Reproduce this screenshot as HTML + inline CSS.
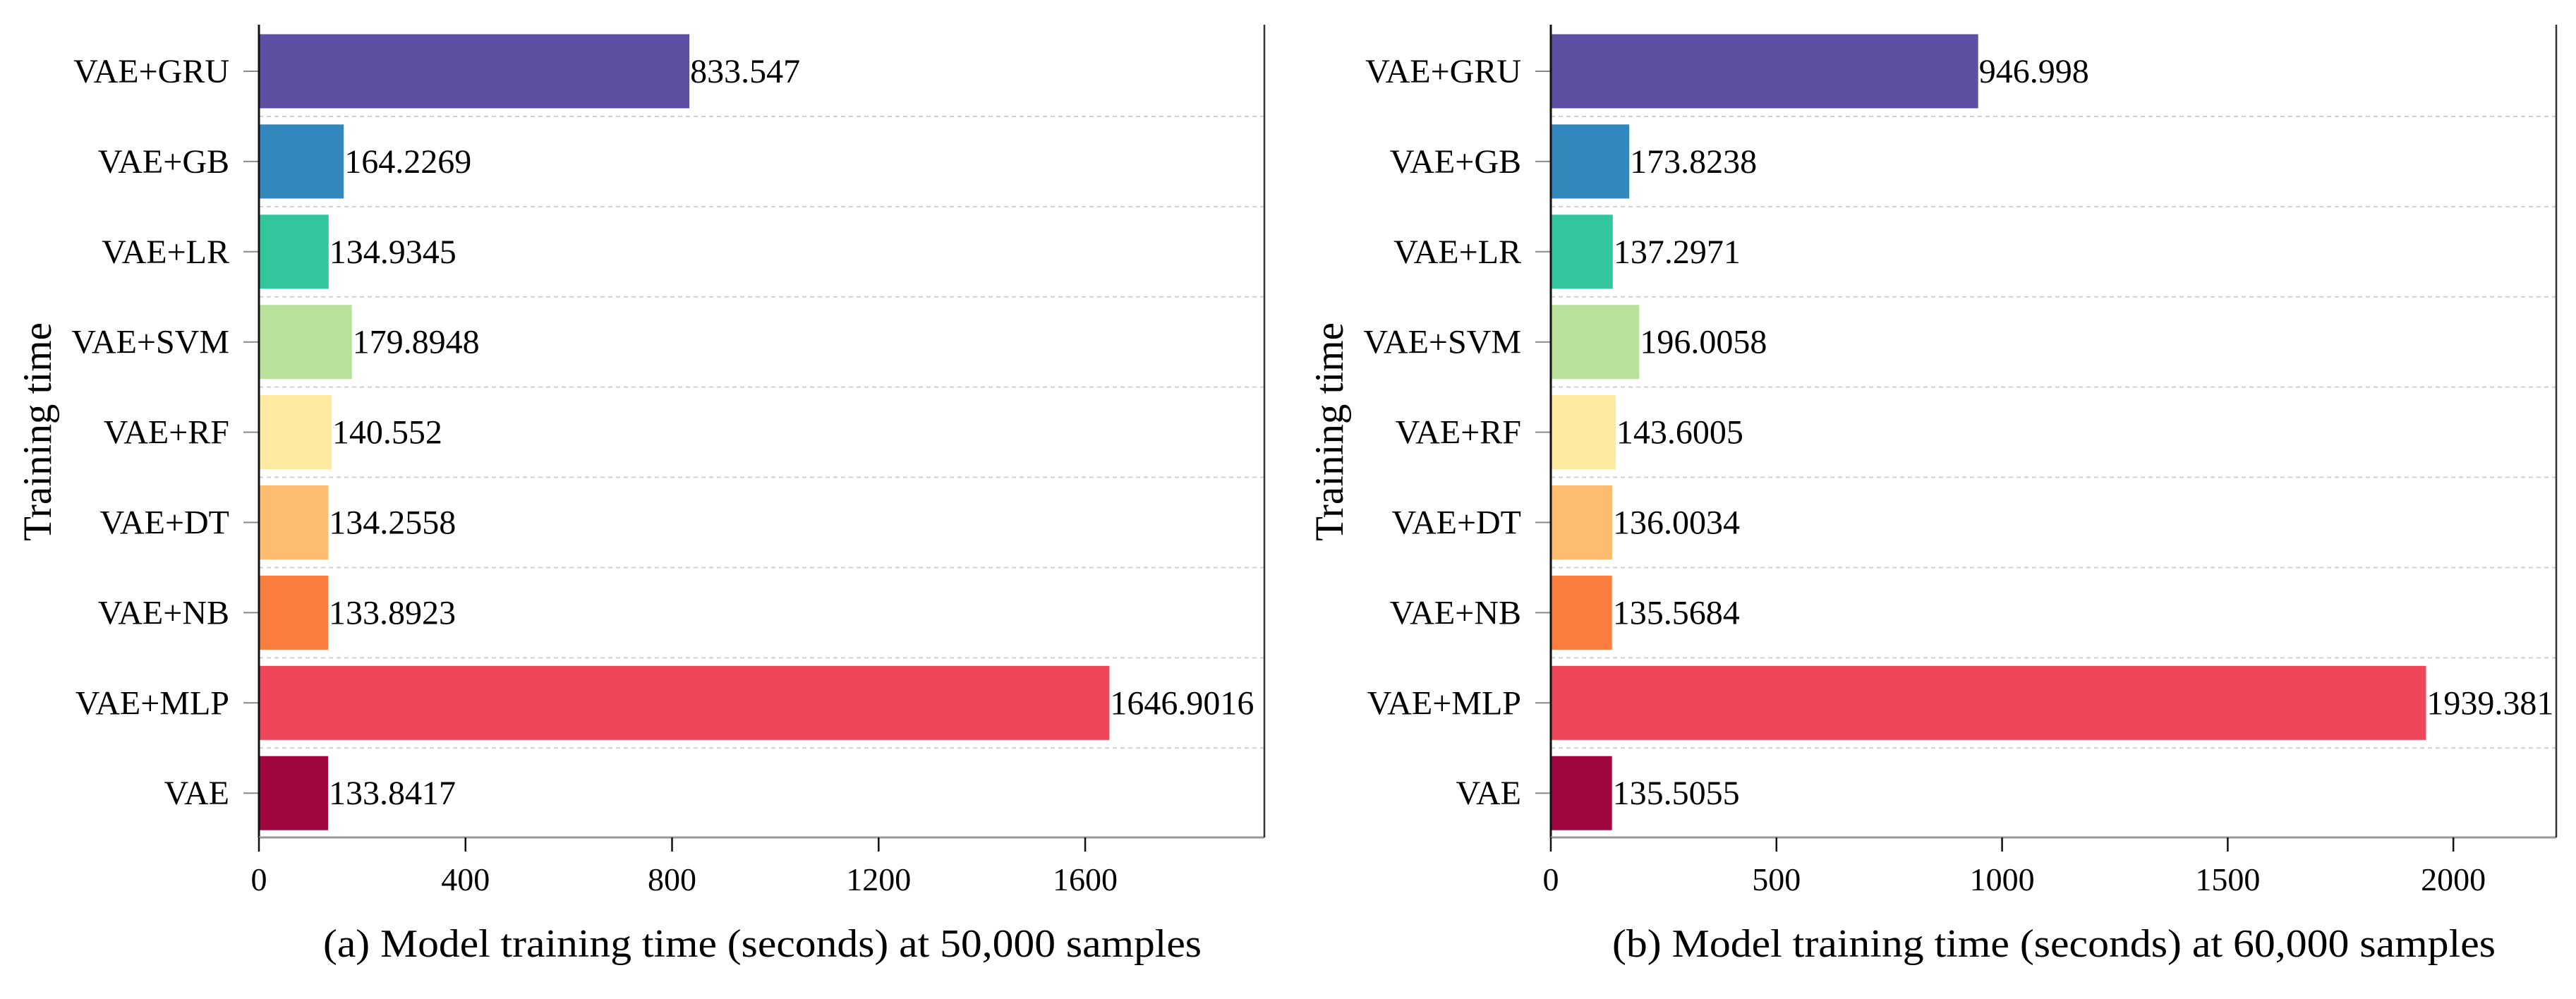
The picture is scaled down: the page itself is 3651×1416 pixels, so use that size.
<!DOCTYPE html>
<html><head><meta charset="utf-8">
<style>
html,body{margin:0;padding:0;background:#fff;}
svg{display:block;font-family:"Liberation Serif","Times New Roman",serif;}
</style></head>
<body>
<svg id="chart" width="3651" height="1416" viewBox="0 0 3651 1416" xmlns="http://www.w3.org/2000/svg"></svg>
<script>
const categories = ["VAE+GRU","VAE+GB","VAE+LR","VAE+SVM","VAE+RF","VAE+DT","VAE+NB","VAE+MLP","VAE"];
const valuesA = [833.547,164.2269,134.9345,179.8948,140.552,134.2558,133.8923,1646.9016,133.8417];
const labelsA = ["833.547","164.2269","134.9345","179.8948","140.552","134.2558","133.8923","1646.9016","133.8417"];
const valuesB = [946.998,173.8238,137.2971,196.0058,143.6005,136.0034,135.5684,1939.381,135.5055];
const labelsB = ["946.998","173.8238","137.2971","196.0058","143.6005","136.0034","135.5684","1939.381","135.5055"];
const ticksA = [0,400,800,1200,1600];
const ticksB = [0,500,1000,1500,2000];
const colors = ["#5e4fa2","#3288bd","#33c69e","#b8e29c","#fde9a0","#fdbc6f","#fb7d3e","#f04659","#a0063f"];

const NS="http://www.w3.org/2000/svg";
const svg=document.getElementById('chart');
function mk(tag,attrs,parent){const e=document.createElementNS(NS,tag);for(const k in attrs)e.setAttribute(k,attrs[k]);(parent||svg).appendChild(e);return e;}

function panel(id,x0,x1,xmax,vals,labs,ticks,caption,capX,capW,titleX){
  const g=mk('g',{});
  
  
  const yTop=35,yBot=1187,c0=101,step=127.9,bh=105;
  const xs=v=>x0+(x1-x0)*v/xmax;
  const ys=i=>c0+i*step;
  // gridlines
  for(let i=0;i<categories.length-1;i++){
    const gl=mk('line',{x1:x0,x2:x1,y1:ys(i)+step/2,y2:ys(i)+step/2,stroke:'#d0d0d0','stroke-width':2,'stroke-dasharray':'6,5'},g);
    
    
  }
  categories.forEach((c,i)=>{
    const r=mk('rect',{x:x0,y:ys(i)-bh/2,width:xs(vals[i])-x0,height:bh,fill:colors[i]},g);
    
    
    const t=mk('text',{x:xs(vals[i])+1,y:ys(i)+16,'font-size':48,fill:'#000'},g);
    t.textContent=labs[i];
    
    
    const l=mk('text',{x:x0-42,y:ys(i)+16,'font-size':48,'text-anchor':'end',fill:'#000'},g);
    l.textContent=c;
    
    
    mk('line',{x1:x0-22,x2:x0,y1:ys(i),y2:ys(i),stroke:'#888','stroke-width':2},g);
  });
  // spines
  const ax=mk('line',{x1:x0,x2:x0,y1:yTop,y2:yBot,stroke:'#111','stroke-width':3},g);
  
  
  const bx=mk('line',{x1:x0,x2:x1,y1:yBot,y2:yBot,stroke:'#999','stroke-width':3},g);
  
  
  mk('line',{x1:x1,x2:x1,y1:yTop,y2:yBot,stroke:'#333','stroke-width':2.5},g);
  ticks.forEach(v=>{
    mk('line',{x1:xs(v),x2:xs(v),y1:yBot,y2:yBot+20,stroke:'#111','stroke-width':2.5},g);
    const t=mk('text',{x:xs(v),y:1262,'font-size':46,'text-anchor':'middle',fill:'#000'},g);
    t.textContent=v;
    
    
  });
  const cap=mk('text',{x:capX,y:1356,'font-size':56,fill:'#000',textLength:capW,lengthAdjust:'spacingAndGlyphs'},g);
  cap.textContent=caption;
  
  
  const yt=mk('text',{x:0,y:0,'font-size':57,'text-anchor':'middle',fill:'#000',transform:`translate(${titleX},612) rotate(-90)`},g);
  yt.textContent='Training time';
  
  
}
panel('a',367,1792,1947,valuesA,labelsA,ticksA,'(a) Model training time (seconds) at 50,000 samples',458,1245,72);
panel('b',2198,3623,2228,valuesB,labelsB,ticksB,'(b) Model training time (seconds) at 60,000 samples',2285,1252,1903);
</script>
</body></html>
